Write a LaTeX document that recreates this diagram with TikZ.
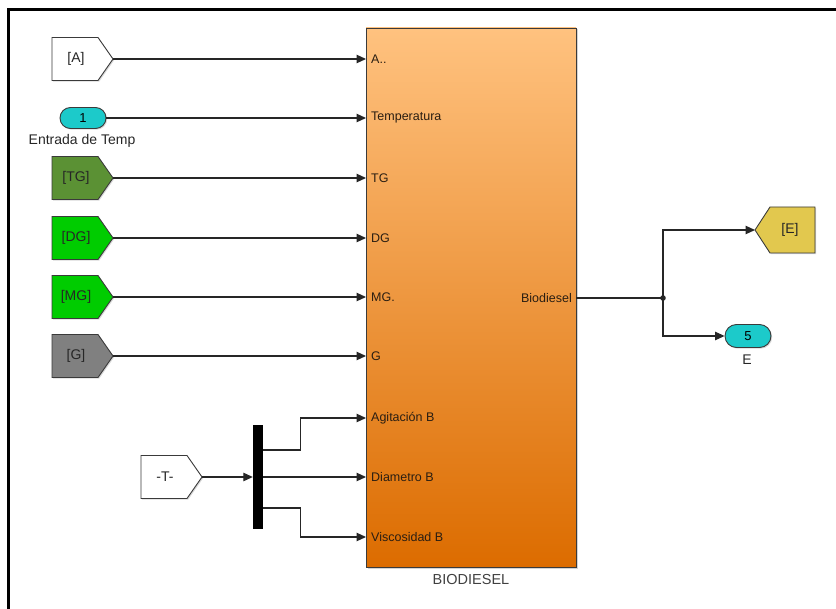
\documentclass[tikz,border=0pt]{standalone}
\usepackage{fontspec}
\setmainfont{Liberation Sans}
\usetikzlibrary{arrows.meta,shadows,shapes.misc}
\definecolor{wirec}{HTML}{262626}
\definecolor{edgec}{HTML}{3A3A3A}
\definecolor{txtc}{HTML}{2A1E12}
\definecolor{biotop}{HTML}{FFC27F}
\definecolor{biobot}{HTML}{DC6C00}
\definecolor{cyanc}{HTML}{1CCACA}
\definecolor{tgc}{HTML}{5B9134}
\definecolor{dgc}{HTML}{00CC00}
\definecolor{gc}{HTML}{808080}
\definecolor{ec}{HTML}{E2C84E}
\newcommand\fromblock[5]{%
  \draw[blk, fill=#4, drop shadow={shadow xshift=1.2pt, shadow yshift=-1.2pt, opacity=0.3}]
    (#2,#3-21.5) -- (#2+46,#3-21.5) -- (#2+61,#3) -- (#2+46,#3+21.5) -- (#2,#3+21.5) -- cycle;
  \node[glbl] (#1txt) at (#2+24,#3) {#5};
  \coordinate (#1) at (#2+61,#3);
}
\begin{document}
\begin{tikzpicture}[x=1pt,y=-1pt,
  wire/.style={draw=wirec, line width=1.1pt},
  arr/.style={wire, -{Triangle[length=9.5pt,width=8.5pt]}},
  blk/.style={draw=edgec, line width=0.9pt},
  plbl/.style={font=\fontsize{12.5}{13}\selectfont, text=txtc, inner sep=0pt},
  glbl/.style={font=\fontsize{14}{14}\selectfont, text=black!85, inner sep=0pt},
]
\useasboundingbox (0,0) rectangle (836,609);
% frame
\draw[line width=3pt] (8,609) -- (8,10) -- (836,10);

% main block
\node[blk, minimum width=210pt, minimum height=539pt, inner sep=0pt,
      top color=biotop, bottom color=biobot,
      drop shadow={shadow xshift=1.5pt, shadow yshift=-1.5pt, opacity=0.35}] (bio) at (471,297.5) {};
\node[font=\fontsize{14.5}{15}\selectfont, text=black!75] (bioname) at (471,580) {BIODIESEL};

% port coordinates
\coordinate (pA) at (366,59);
\coordinate (pT) at (366,118);
\coordinate (pTG) at (366,178);
\coordinate (pDG) at (366,238);
\coordinate (pMG) at (366,297);
\coordinate (pG) at (366,356);
\coordinate (pAg) at (366,418);
\coordinate (pDi) at (366,477);
\coordinate (pVi) at (366,537);
\coordinate (pBio) at (576,298);

% port labels
\node[plbl, anchor=west] (lA) at (371,59) {A..};
\node[plbl, anchor=west] (lT) at (371,118) {Temperatura};
\node[plbl, anchor=west] (lTG) at (371,178) {TG};
\node[plbl, anchor=west] (lDG) at (371,238) {DG};
\node[plbl, anchor=west] (lMG) at (371,297) {MG.};
\node[plbl, anchor=west] (lG) at (371,356) {G};
\node[plbl, anchor=west] (lAg) at (371,418) {Agitación B};
\node[plbl, anchor=west] (lDi) at (371,477) {Diametro B};
\node[plbl, anchor=west] (lVi) at (371,537) {Viscosidad B};
\node[plbl, anchor=east] (lBio) at (572,298) {Biodiesel};

% from blocks
\fromblock{A}{52}{59}{white}{[A]}
\fromblock{TG}{52}{178}{tgc}{[TG]}
\fromblock{DG}{52}{238}{dgc}{[DG]}
\fromblock{MG}{52}{297}{dgc}{[MG]}
\fromblock{G}{52}{356}{gc}{[G]}
\fromblock{T}{141}{477}{white}{-T-}

% inport 1
\node[rounded rectangle, draw=edgec, line width=0.9pt, fill=cyanc, minimum width=46pt, minimum height=21pt,
      inner sep=0pt, font=\fontsize{13}{13}\selectfont,
      drop shadow={shadow xshift=1.2pt, shadow yshift=-1.2pt, opacity=0.3}] (in1) at (83,118) {1};
\node[glbl] (in1name) at (82,141) {Entrada de Temp};

% demux
\node[fill=black, minimum width=10pt, minimum height=104pt, inner sep=0pt] (demux) at (258,477) {};

% goto E
\draw[blk, fill=ec, drop shadow={shadow xshift=1.2pt, shadow yshift=-1.2pt, opacity=0.3}]
  (755,230) -- (770,207) -- (815,207) -- (815,253) -- (770,253) -- cycle;
\node[glbl] (Etxt) at (790,230) {[E]};
\coordinate (Etip) at (755,230);

% outport 5
\node[rounded rectangle, draw=edgec, line width=0.9pt, fill=cyanc, minimum width=46pt, minimum height=23pt,
      inner sep=0pt, font=\fontsize{13}{13}\selectfont,
      drop shadow={shadow xshift=1.2pt, shadow yshift=-1.2pt, opacity=0.3}] (out5) at (748,336) {5};
\node[glbl] (out5name) at (747,360) {E};

% wires
\draw[arr] (A) -- (pA);
\draw[arr] (in1.east) -- (pT);
\draw[arr] (TG) -- (pTG);
\draw[arr] (DG) -- (pDG);
\draw[arr] (MG) -- (pMG);
\draw[arr] (G) -- (pG);
\draw[arr] (T) -- (demux.west);
\draw[arr] ([yshift=27pt]demux.east) -- ++(37,0) |- (pAg);
\draw[arr] (demux.east) -- (pDi);
\draw[arr] ([yshift=-31pt]demux.east) -- ++(37,0) |- (pVi);

\coordinate (J) at (663,298);
\draw[wire] (pBio) -- (J);
\draw[arr] (J) |- (Etip);
\draw[arr] (J) |- (out5.west);
\fill[wirec] (J) circle (2.8pt);
\end{tikzpicture}
\end{document}
